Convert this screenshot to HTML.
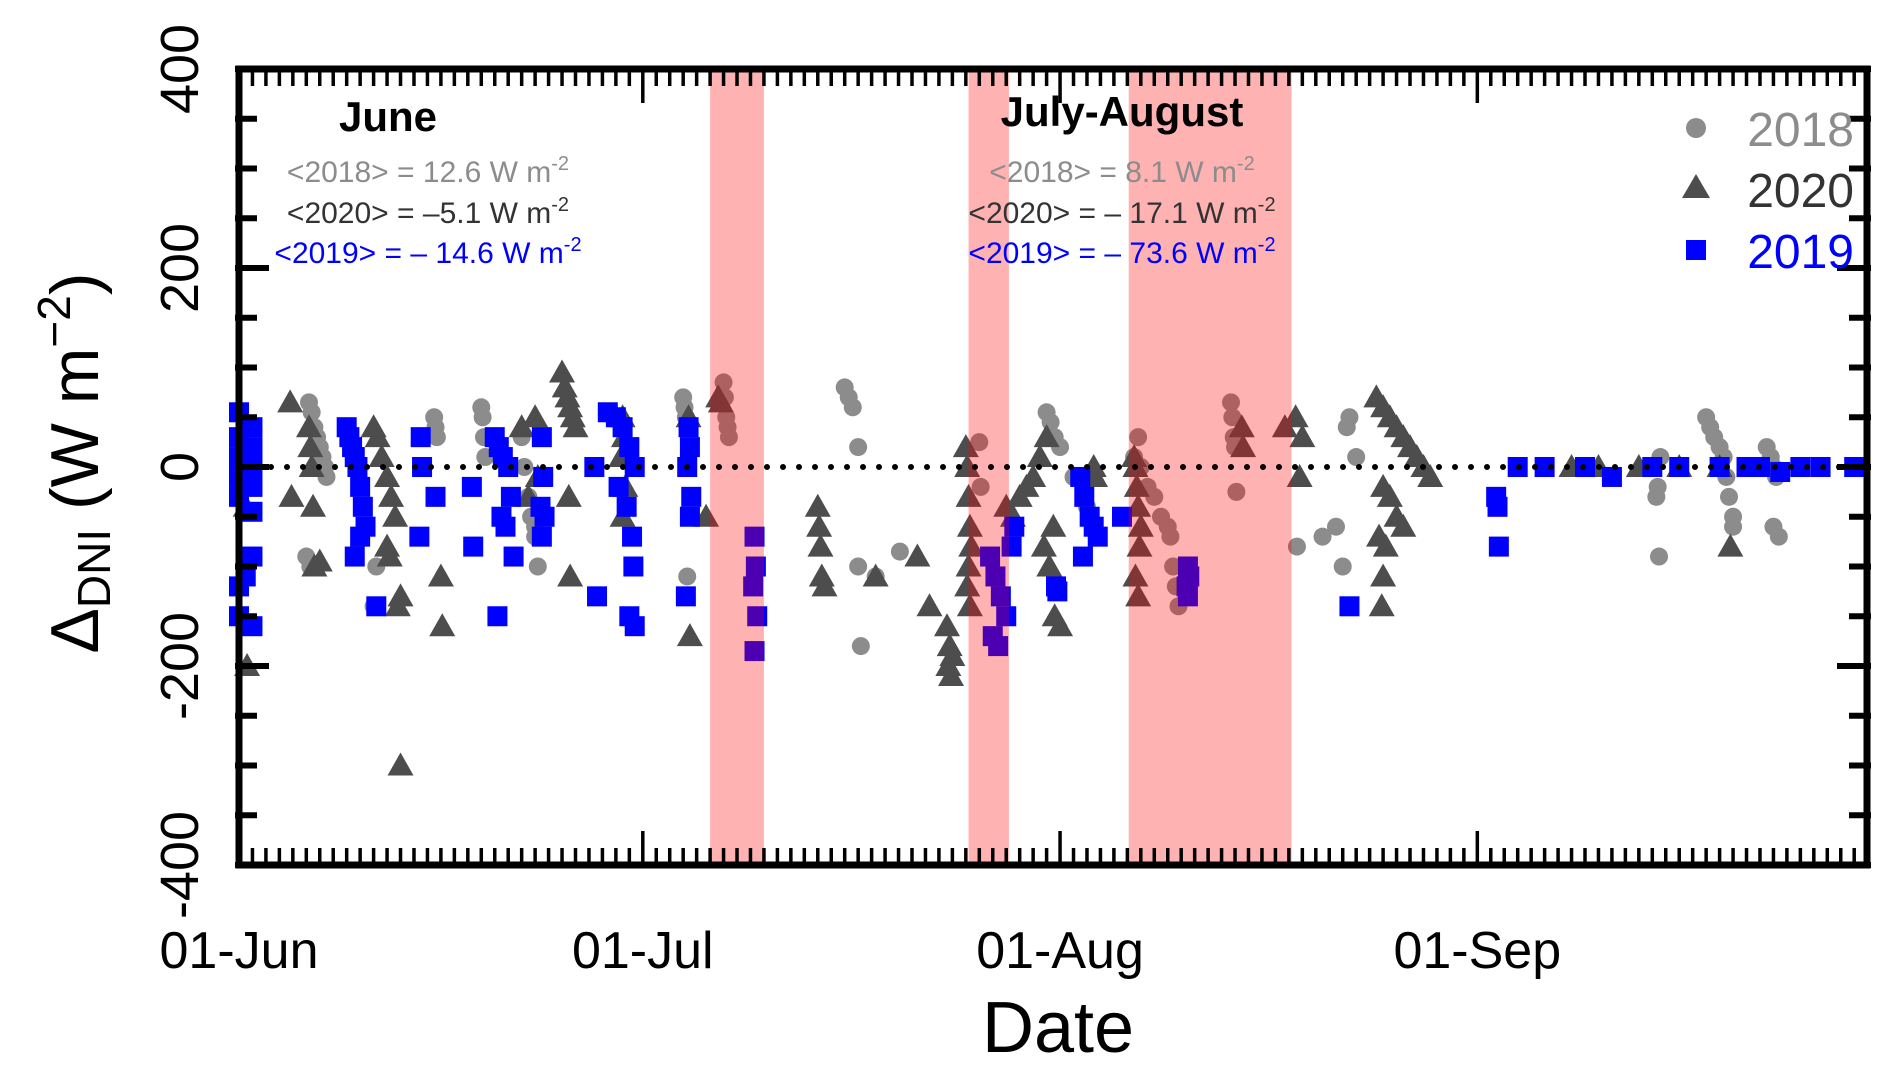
<!DOCTYPE html>
<html><head><meta charset="utf-8"><style>
html,body{margin:0;padding:0;background:#fff;}
svg{display:block;font-family:"Liberation Sans",Arial,sans-serif;}
</style></head><body>
<svg id="chart" width="1892" height="1069" viewBox="0 0 1892 1069" xmlns="http://www.w3.org/2000/svg">
<g id="marks"></g>
<g id="shade"></g>
<g id="axes"></g>
<text x="388" y="131" font-size="42" font-weight="bold" text-anchor="middle">June</text>
<text x="428" y="182" font-size="30" fill="#8c8c8c" text-anchor="middle">&lt;2018&gt; = 12.6 W m<tspan dy="-12" font-size="20">-2</tspan></text>
<text x="428" y="223" font-size="30" fill="#333" text-anchor="middle">&lt;2020&gt; = &#8211;5.1 W m<tspan dy="-12" font-size="20">-2</tspan></text>
<text x="428" y="263" font-size="30" fill="#0000ff" text-anchor="middle">&lt;2019&gt; = &#8211; 14.6 W m<tspan dy="-12" font-size="20">-2</tspan></text>
<text x="1122" y="126" font-size="42" font-weight="bold" text-anchor="middle">July-August</text>
<text x="1122" y="182" font-size="30" fill="#8c8c8c" text-anchor="middle">&lt;2018&gt; = 8.1 W m<tspan dy="-12" font-size="20">-2</tspan></text>
<text x="1122" y="223" font-size="30" fill="#333" text-anchor="middle">&lt;2020&gt; = &#8211; 17.1 W m<tspan dy="-12" font-size="20">-2</tspan></text>
<text x="1122" y="263" font-size="30" fill="#0000ff" text-anchor="middle">&lt;2019&gt; = &#8211; 73.6 W m<tspan dy="-12" font-size="20">-2</tspan></text>
<g>
<circle cx="1696" cy="128" r="10" fill="#8c8c8c"/>
<text x="1854" y="146" font-size="48" fill="#8c8c8c" text-anchor="end">2018</text>
<polygon points="1696,174 1682,198 1710,198" fill="#4d4d4d"/>
<text x="1854" y="207" font-size="48" fill="#333" text-anchor="end">2020</text>
<rect x="1686" y="240" width="20" height="20" fill="#0000ff"/>
<text x="1854" y="268" font-size="48" fill="#0000ff" text-anchor="end">2019</text>
</g>
<text x="1058" y="1052" font-size="72" text-anchor="middle">Date</text>
<text transform="translate(98,463) rotate(-90)" font-size="68" text-anchor="middle">Δ<tspan font-size="46" dy="12">DNI</tspan><tspan dy="-12"> (W m</tspan><tspan font-size="46" dy="-28">&#8722;2</tspan><tspan dy="28">)</tspan></text>
</svg>
<script>
const yTicks=[400,200,0,-200,-400];
const monthDays=[0,30,61,92];
const monthLabels=["01-Jun","01-Jul","01-Aug","01-Sep"];
const shadeStart=[35,54.2,66.1];
const shadeEnd=[39,57.2,78.2];
const d2018x=[5.2,5.4,5.6,5.8,6,6.2,6.4,6.5,5,5.3,10,10.2,14.5,14.6,14.7,18,18.1,18.2,18.3,21,21.2,21.5,21.7,22,22,22.2,33,33.1,33.2,33.3,36,36.1,36.2,36.3,36.4,45,45.3,45.6,46,46.2,46,47.3,49.1,55,55.1,60,60.3,60.6,61,62,63,66.5,67,67.5,68,68.5,69,69.2,69.4,69.6,66.8,69.8,73.7,73.8,73.9,74,74.1,78.6,80.5,81.5,82,82.5,82.3,83,105.5,105.6,105.4,105.3,109,109.3,109.6,110,110.3,110.5,110.7,111,111,113.5,113.8,114,114.2,114.4,114];
const d2018y=[65,55,40,30,20,10,0,-10,-90,-100,-140,-100,50,40,30,60,50,30,10,30,0,-30,-50,-60,-70,-100,70,60,50,-110,85,70,50,40,30,80,70,60,20,-180,-100,-110,-85,25,-20,55,45,30,20,-10,-40,10,0,-20,-30,-50,-60,-70,-100,-120,30,-140,65,50,30,20,-25,-80,-70,-60,-100,50,40,10,-90,10,-20,-30,50,40,30,20,10,-10,-30,-50,-60,20,10,0,-10,-70,-60];
const d2020x=[0.5,0.6,0.4,3.8,3.9,5.2,5.3,5.4,5.5,5.6,6,10,10.3,10.6,11,11.3,11.6,11,11.2,12,11.8,12,15,15.1,21,22,22.2,21.5,24,24.2,24.4,24.6,24.8,25,24.5,24.6,28.5,28.6,28.4,28.7,28.5,33.4,33.5,34.7,35.6,35.8,43,43.1,43.2,43.3,43.5,47.3,50.4,51.3,52.6,52.8,53,52.7,52.9,54,54.1,54.2,54.3,54.4,54.2,54.1,54.3,57,57.5,58,58.5,59,59.5,60,60.5,59.8,60.2,60.6,61,63.5,63.6,66.5,66.6,66.7,66.8,67,66.9,66.6,66.8,74.5,74.6,77.7,78.5,78.8,79,84.5,85,85.5,86,86.5,87,87.5,88,85,85.5,86,86.5,84.7,85.2,85,84.9,88.5,99,101,104,107,110,110.8];
const d2020y=[-40,-200,-10,65,-30,40,20,0,-40,-100,-95,40,30,10,-10,-30,-50,-80,-90,-130,-140,-300,-110,-160,40,50,-10,-30,95,80,70,60,50,40,-30,-110,50,30,10,-20,-50,50,-170,-50,70,65,-40,-60,-80,-110,-120,-110,-90,-140,-160,-180,-190,-200,-210,20,0,-30,-60,-80,-100,-120,-140,-40,-50,-30,-20,-10,10,30,-60,-80,-100,-150,-160,0,-10,10,0,-20,-40,-60,-80,-110,-130,40,20,40,50,-10,30,70,60,50,40,30,20,10,0,-20,-30,-50,-60,-70,-80,-110,-140,-10,0,0,0,0,0,-80];
const d2019x=[0,0,0,0,0,1,1,1,1,1,1,0,0,1,0.5,8,8.2,8.4,8.6,8.8,9,9.2,9.4,9,8.6,10.2,13.5,13.6,13.4,14.6,17.3,17.4,19,19.3,19.6,20,20.2,19.5,19.8,20.4,19.2,22.5,22.6,22.4,22.7,22.5,26.6,26.4,27.4,28,28.5,29,29.4,28.2,28.8,29.2,29.3,29,29.4,33.4,33.5,33.3,33.6,33.5,33.2,38.3,38.4,38.2,38.5,38.3,55.8,56.2,56.6,57,56,56.4,57.6,57.4,60.7,60.8,62.5,62.8,63.2,63.5,63.8,62.7,65.6,70.5,70.6,70.4,70.5,82.5,93.4,93.5,93.6,95,97,100,102,105,107,110,113,116,120,112,114.5,117.5];
const d2019y=[55,30,10,-10,-30,40,20,0,-20,-45,-90,-120,-150,-160,-110,40,30,20,10,0,-20,-40,-60,-70,-90,-140,30,0,-70,-30,-20,-80,30,20,10,0,-30,-50,-60,-90,-150,30,-10,-40,-50,-70,-130,0,55,50,40,20,0,-20,-40,-70,-100,-150,-160,40,20,0,-30,-50,-130,-70,-100,-120,-150,-185,-90,-110,-130,-150,-170,-180,-60,-80,-120,-125,-10,-30,-50,-60,-70,-90,-50,-100,-110,-120,-130,-140,-30,-40,-80,0,0,0,-10,0,0,0,0,0,0,0,-5,0,-5];
const X0=239,PXD=13.46,Y0=467,PXV=0.995,L=239,R=1867,T=69,B=865;
function xs(d){return X0+d*PXD;}
function ys(v){return Y0-v*PXV;}
const NS="http://www.w3.org/2000/svg";
function mk(tag,attrs,parent){const e=document.createElementNS(NS,tag);for(const k in attrs)e.setAttribute(k,attrs[k]);parent.appendChild(e);return e;}
const marks=document.getElementById('marks');
for(let i=0;i<d2018x.length;i++){
 const e=mk('circle',{cx:xs(d2018x[i]),cy:ys(d2018y[i]),r:9,fill:'#8c8c8c'},marks);
 
 
}
for(let i=0;i<d2020x.length;i++){
 const cx=xs(d2020x[i]),cy=ys(d2020y[i]);
 const e=mk('polygon',{points:`${cx},${cy-13} ${cx-13},${cy+10} ${cx+13},${cy+10}`,fill:'#4d4d4d'},marks);
 
 
}
for(let i=0;i<d2019x.length;i++){
 const e=mk('rect',{x:xs(d2019x[i])-10,y:ys(d2019y[i])-10,width:20,height:20,fill:'#0000ff'},marks);
 
 
}
const shade=document.getElementById('shade');
for(let i=0;i<shadeStart.length;i++){
 const e=mk('rect',{x:xs(shadeStart[i]),y:T,width:xs(shadeEnd[i])-xs(shadeStart[i]),height:B-T,fill:'rgba(255,0,0,0.3)'},shade);
 
 
}
const ax=document.getElementById('axes');
let zl=mk('line',{x1:L,y1:ys(0),x2:R,y2:ys(0),stroke:'#000','stroke-width':6,'stroke-dasharray':'0 16','stroke-linecap':'round'},ax);


let fr=mk('rect',{x:L,y:T,width:R-L,height:B-T,fill:'none',stroke:'#000','stroke-width':7},ax);


for(let d=0;d<=121;d++){
 const x=xs(d),len=monthDays.includes(d)?34:17;
 const a=mk('line',{x1:x,y1:T,x2:x,y2:T+len,stroke:'#000','stroke-width':3.5},ax);
 
 
 const b=mk('line',{x1:x,y1:B,x2:x,y2:B-len,stroke:'#000','stroke-width':3.5},ax);
 
 
}
for(let v=-400;v<=400;v+=50){
 const y=ys(v),len=(v%200===0)?30:18;
 const a=mk('line',{x1:L-4,y1:y,x2:L+len,y2:y,stroke:'#000','stroke-width':6},ax);
 
 
 const b=mk('line',{x1:R+4,y1:y,x2:R-len,y2:y,stroke:'#000','stroke-width':6},ax);
 
 
}
yTicks.forEach(v=>{
 const t=mk('text',{transform:`translate(198,${ys(v)}) rotate(-90)`,'font-size':54,'text-anchor':'middle'},ax);
 t.textContent=String(v);
 
 
});
monthDays.forEach((d,i)=>{
 const t=mk('text',{x:xs(d),y:968,'font-size':52,'text-anchor':'middle'},ax);
 t.textContent=monthLabels[i];
 
 
});
</script>
</body></html>
